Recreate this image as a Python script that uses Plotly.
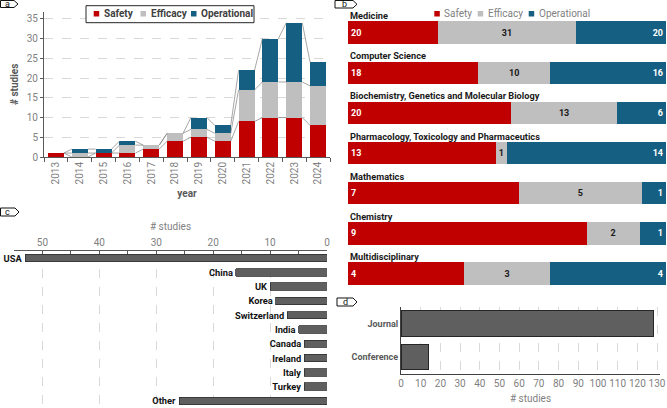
import plotly.graph_objects as go

W, H = 667, 408

# panel a data
years = [2013, 2014, 2015, 2016, 2017, 2018, 2019, 2020, 2021, 2022, 2023, 2024]
safety_year = [1, 0, 1, 1, 2, 4, 5, 4, 9, 10, 10, 8]
efficacy_year = [0, 1, 0, 2, 1, 2, 2, 2, 8, 9, 9, 10]
operational_year = [0, 1, 1, 1, 0, 0, 3, 2, 5, 11, 15, 6]

# panel b data
fields = ["Medicine", "Computer Science", "Biochemistry, Genetics and Molecular Biology",
          "Pharmacology, Toxicology and Pharmaceutics", "Mathematics", "Chemistry",
          "Multidisciplinary"]
safety_field = [20, 18, 20, 13, 7, 9, 4]
efficacy_field = [31, 10, 13, 1, 5, 2, 3]
operational_field = [20, 16, 6, 14, 1, 1, 4]

# panel c data
countries = ["USA", "China", "UK", "Korea", "Switzerland", "India", "Canada",
             "Ireland", "Italy", "Turkey", "Other"]
country_counts = [53, 16, 10, 9, 7, 5, 4, 4, 4, 4, 26]

# panel d data
venues = ["Journal", "Conference"]
venue_counts = [128, 14]

series = ["Safety", "Efficacy", "Operational"]
colors = {"Safety": "#C00000", "Efficacy": "#BFBFBF", "Operational": "#156082"}
FONT = "Roboto"


def px(x):
    return x / W


def py(y):
    return 1 - y / H


fig = go.Figure()

# ---- panel a: stacked bars per year
year_data = {"Safety": safety_year, "Efficacy": efficacy_year, "Operational": operational_year}
for s in series:
    fig.add_trace(go.Bar(x=years, y=year_data[s], name=s, marker_color=colors[s],
                         marker_line_width=0, width=0.67, showlegend=False,
                         xaxis="x", yaxis="y"))

# series lines between neighbouring stacks
bw = 0.67
cum = [0] * len(years)
for s in series:
    cum = [c + v for c, v in zip(cum, year_data[s])]
    lx, ly = [], []
    for i in range(len(years) - 1):
        lx += [years[i] + bw / 2, years[i + 1] - bw / 2, None]
        ly += [cum[i], cum[i + 1], None]
    fig.add_trace(go.Scatter(x=lx, y=ly, mode="lines", line=dict(color="#7f7f7f", width=0.7),
                             showlegend=False, hoverinfo="skip", xaxis="x", yaxis="y"))

# ---- panel b: 100% stacked bars per field
field_data = {"Safety": safety_field, "Efficacy": efficacy_field, "Operational": operational_field}
totals = [a + b + c for a, b, c in zip(safety_field, efficacy_field, operational_field)]
anchors = {"Safety": "start", "Efficacy": "middle", "Operational": "end"}
tcol = {"Safety": "white", "Efficacy": "#1a1a1a", "Operational": "white"}
for s in series:
    vals = field_data[s]
    pct = [v / t * 100 for v, t in zip(vals, totals)]
    fig.add_trace(go.Bar(y=fields, x=pct, orientation="h", name=s, marker_color=colors[s],
                         marker_line_width=0, width=0.56, text=[str(v) for v in vals],
                         textposition="inside", insidetextanchor=anchors[s],
                         textangle=0, constraintext="none",
                         textfont=dict(color=tcol[s], size=9, family=FONT, weight="bold"),
                         customdata=vals, hovertemplate="%{y}<br>" + s + ": %{customdata}<extra></extra>",
                         showlegend=False, xaxis="x2", yaxis="y2"))

# ---- panel c: countries
fig.add_trace(go.Bar(y=countries, x=country_counts, orientation="h", width=0.52,
                     marker=dict(color="#5f5f5f", line=dict(color="#303030", width=0.8)),
                     text=countries, textposition="outside", cliponaxis=False,
                     constraintext="none", textangle=0,
                     textfont=dict(color="#111111", size=9.3, family=FONT, weight="bold"),
                     showlegend=False, xaxis="x3", yaxis="y3"))

# ---- panel d: venue
fig.add_trace(go.Bar(y=venues, x=venue_counts, orientation="h", width=0.76,
                     marker=dict(color="#5f5f5f", line=dict(color="#262626", width=1)),
                     showlegend=False, xaxis="x4", yaxis="y4"))

tickf = dict(family=FONT, size=10, color="#7f7f7f")
grid = dict(showgrid=True, gridcolor="#d9d9d9", griddash="dash", gridwidth=1)

fig.update_layout(
    width=W, height=H, margin=dict(l=0, r=0, t=0, b=0, autoexpand=False),
    paper_bgcolor="white", plot_bgcolor="white",
    barmode="stack",
    font=dict(family=FONT, color="#595959"),
    xaxis=dict(domain=[px(44), px(330)], range=[2012.5, 2024.5], tickvals=years,
               ticktext=[str(y) for y in years], tickangle=-90, ticks="",
               tickfont=tickf, showline=True, linecolor="#595959", showgrid=False,
               minor=dict(tick0=2012.5, dtick=1, ticks="outside", ticklen=4, tickcolor="#595959"),
               title=dict(text="<b>year</b>", font=dict(size=10, color="#595959"), standoff=6),
               anchor="y", zeroline=False),
    yaxis=dict(domain=[py(157), py(11.7)], range=[0, 36.8], dtick=5, tickfont=tickf,
               ticks="outside", ticklen=3, tickcolor="#595959", showline=True,
               linecolor="#595959", zeroline=False, **grid,
               title=dict(text="<b># studies</b>", font=dict(size=10, color="#595959"), standoff=6),
               anchor="x"),
    xaxis2=dict(domain=[px(348), px(666)], range=[0, 100], visible=False, anchor="y2"),
    yaxis2=dict(domain=[py(298), py(12.6)], autorange="reversed", visible=False, anchor="x2"),
    xaxis3=dict(domain=[px(14), px(327)], range=[55, 0], side="top", dtick=10,
                tickfont=tickf, ticks="inside", ticklen=3, tickcolor="#595959",
                minor=dict(dtick=5, ticks="inside", ticklen=3, tickcolor="#595959"),
                showline=True, linecolor="#595959", zeroline=False, **grid,
                title=dict(text="# studies", font=dict(size=10, color="#7f7f7f"), standoff=4),
                anchor="y3"),
    yaxis3=dict(domain=[py(408), py(251)], autorange="reversed", showticklabels=False,
                showgrid=False, zeroline=False, anchor="x3"),
    xaxis4=dict(domain=[px(401), px(660)], range=[0, 131.5], dtick=10, tickfont=tickf,
                ticks="", showline=True, linecolor="#404040", zeroline=False, **grid,
                title=dict(text="# studies", font=dict(size=10, color="#7f7f7f"), standoff=6),
                anchor="y4"),
    yaxis4=dict(domain=[py(374), py(306.5)], autorange="reversed", showline=True,
                linecolor="#404040", ticks="", showgrid=False,
                tickfont=dict(family=FONT, size=9, color="#595959", weight="bold"),
                anchor="x4"),
)
fig.update_xaxes(automargin=False)
fig.update_yaxes(automargin=False)

# panel b category headings
for f in fields:
    fig.add_annotation(x=0, y=f, xref="x2 domain", yref="y2", yshift=17, text="<b>" + f + "</b>",
                       showarrow=False, xanchor="left", yanchor="middle",
                       font=dict(family=FONT, size=9.2, color="#1a1a1a"))

# legends (a boxed, b plain)
fig.add_shape(type="rect", xref="paper", yref="paper", x0=px(86), x1=px(254), y0=py(22.7), y1=py(5.7),
              line=dict(color="#262626", width=1), fillcolor="white")
leg_a = [93.7, 140.5, 191]
leg_b = [434.3, 477.7, 528.7]
for s, xa, xb in zip(series, leg_a, leg_b):
    for x0, col, bold in [(xa, "#404040", True), (xb, "#7f7f7f", False)]:
        fig.add_shape(type="rect", xref="paper", yref="paper", x0=px(x0), x1=px(x0 + 5.5),
                      y0=py(16.5), y1=py(11), line_width=0, fillcolor=colors[s])
        fig.add_annotation(x=px(x0 + 8), y=py(13.7), xref="paper", yref="paper",
                           text=("<b>%s</b>" % s) if bold else s, showarrow=False,
                           xanchor="left", yanchor="middle",
                           font=dict(family=FONT, size=10, color=col))

# panel tags
tags = [("a", 0.5, 0.5, 18, 7.5), ("b", 335, 0.5, 357, 8), ("c", 0.5, 208, 19, 216), ("d", 337, 298, 357, 306)]
for letter, x0, y0, x1, y1 in tags:
    tip = x1 - 4
    path = "M %f,%f L %f,%f L %f,%f L %f,%f L %f,%f Z" % (
        px(x0), py(y0), px(tip), py(y0), px(x1), py((y0 + y1) / 2), px(tip), py(y1), px(x0), py(y1))
    fig.add_shape(type="path", path=path, xref="paper", yref="paper",
                  line=dict(color="#111111", width=1), fillcolor="white")
    fig.add_annotation(x=px((x0 + tip) / 2), y=py((y0 + y1) / 2), xref="paper", yref="paper",
                       xanchor="center", yanchor="middle",
                       text=letter, showarrow=False, font=dict(family=FONT, size=9, color="#111111"))

fig.write_html("out.html", config={"displayModeBar": False},
               post_script="document.body.style.margin='0';document.body.style.overflow='hidden';")
